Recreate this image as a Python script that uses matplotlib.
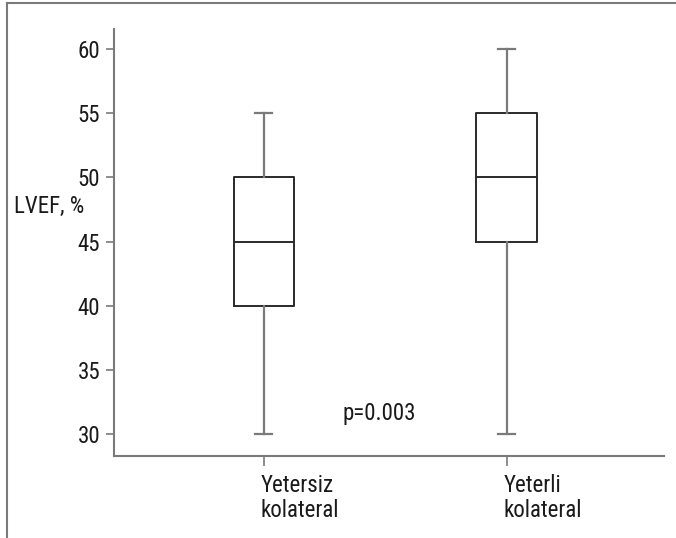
import matplotlib
matplotlib.use("Agg")
import matplotlib.pyplot as plt
import matplotlib.transforms as mtransforms
from matplotlib.lines import Line2D

# ---- data ----
groups = ["Yetersiz\nkolateral", "Yeterli\nkolateral"]
whisker_low = [30, 30]
q1 = [40, 45]
median = [45, 50]
q3 = [50, 55]
whisker_high = [55, 60]
p_text = "p=0.003"
y_ticks = [30, 35, 40, 45, 50, 55, 60]

plt.rcParams["font.family"] = ["Roboto Condensed", "DejaVu Sans"]
fs = 16.5

fig = plt.figure(figsize=(6.76, 5.38), dpi=100)
ax = fig.add_axes([0.1686, 0.1524, 0.8134, 0.7936])

stats = []
for i, g in enumerate(groups):
    stats.append(dict(label=g, whislo=whisker_low[i], q1=q1[i], med=median[i],
                      q3=q3[i], whishi=whisker_high[i], fliers=[]))

grey = "#7a7a7a"
dark = "#2a2a2a"
ax.bxp(stats, positions=[1, 2], widths=0.25, showfliers=False,
       boxprops=dict(color=dark, linewidth=1.4),
       medianprops=dict(color=dark, linewidth=1.4),
       whiskerprops=dict(color=grey, linewidth=1.6),
       capprops=dict(color=grey, linewidth=1.6),
       capwidths=0.07)

ax.set_xlim(0.383, 2.646)
ax.set_ylim(28.28, 61.56)
ax.set_yticks(y_ticks)
ax.set_yticklabels([str(t) for t in y_ticks])

for side in ["top", "right"]:
    ax.spines[side].set_visible(False)
for side in ["left", "bottom"]:
    ax.spines[side].set_color(grey)
    ax.spines[side].set_linewidth(1.5)

ax.tick_params(axis="y", length=6, width=1.2, color=grey, pad=4, labelsize=fs, labelcolor="#1a1a1a")
ax.tick_params(axis="x", length=7, width=1.2, color=grey, pad=6, labelsize=fs, labelcolor="#1a1a1a")

# x labels are left aligned, starting just left of the tick
offset = mtransforms.ScaledTranslation(-3 / 100, 0, fig.dpi_scale_trans)
for lab in ax.get_xticklabels():
    lab.set_horizontalalignment("left")
    lab.set_multialignment("left")
    lab.set_linespacing(1.1)
    lab.set_transform(lab.get_transform() + offset)

ax.text(1.325, 31.6, p_text, fontsize=fs, va="center", ha="left", color="#1a1a1a")
fig.text(0.02, 1 - 206 / 538, "LVEF, %", fontsize=fs, va="center", ha="left", color="#1a1a1a")

# frame lines (top and left only)
fx = 7 / 676
fy = 1 - 3 / 538
fig.add_artist(Line2D([fx, 1], [fy, fy], transform=fig.transFigure, color=grey, lw=1.5))
fig.add_artist(Line2D([fx, fx], [0, fy], transform=fig.transFigure, color=grey, lw=1.5))

fig.savefig("out.png", dpi=100)
